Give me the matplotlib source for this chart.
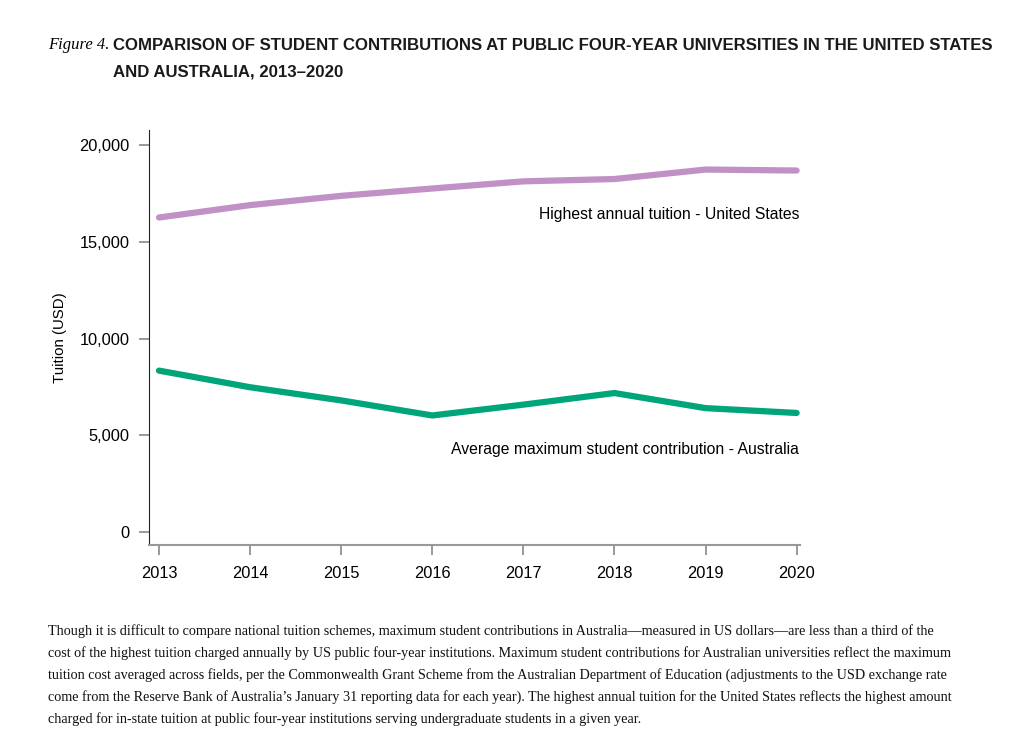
import matplotlib.pyplot as plt

years = [2013, 2014, 2015, 2016, 2017, 2018, 2019, 2020]
us_tuition = [16260, 16900, 17380, 17760, 18130, 18250, 18740, 18690]
au_contrib = [8340, 7480, 6800, 6020, 6580, 7180, 6400, 6150]

yticks = [0, 5000, 10000, 15000, 20000]

caption = [
    "Though it is difficult to compare national tuition schemes, maximum student contributions in Australia\u2014measured in US dollars\u2014are less than a third of the",
    "cost of the highest tuition charged annually by US public four-year institutions. Maximum student contributions for Australian universities reflect the maximum",
    "tuition cost averaged across fields, per the Commonwealth Grant Scheme from the Australian Department of Education (adjustments to the USD exchange rate",
    "come from the Reserve Bank of Australia\u2019s January 31 reporting data for each year). The highest annual tuition for the United States reflects the highest amount",
    "charged for in-state tuition at public four-year institutions serving undergraduate students in a given year.",
]

purple = "#c191c5"
green = "#00a57a"

plt.rcParams["font.family"] = ["Liberation Sans", "DejaVu Sans"]

fig = plt.figure(figsize=(10.24, 7.35), dpi=100)
ax = fig.add_axes([0.1455, 0.2585, 0.636, 0.565])

ax.plot(years, us_tuition, color=purple, lw=4.5, solid_capstyle="round")
ax.plot(years, au_contrib, color=green, lw=4.5, solid_capstyle="round")

ax.set_xlim(2012.89, 2020.04)
ax.set_ylim(-680, 20800)
ax.set_xticks(years)
ax.set_yticks(yticks)
ax.set_yticklabels([f"{v:,}" for v in yticks])

for s in ["top", "right"]:
    ax.spines[s].set_visible(False)
ax.spines["left"].set_color("#222222")
ax.spines["bottom"].set_color("#999999")
ax.spines["bottom"].set_linewidth(1.5)
ax.tick_params(axis="both", colors="#888888", labelcolor="black", labelsize=11.8, length=7, width=1.2)
ax.tick_params(axis="x", pad=8)
ax.tick_params(axis="y", pad=7)
ax.set_ylabel("Tuition (USD)", fontsize=10.8, labelpad=9)

ax.text(2020.03, 16400, "Highest annual tuition - United States", ha="right", va="center", fontsize=11.3)
ax.text(2020.03, 4250, "Average maximum student contribution - Australia", ha="right", va="center", fontsize=11.3)

fig.text(48 / 1024, 1 - 45 / 735, "Figure 4.", family="Liberation Serif", style="italic", fontsize=12, va="center")
fig.text(113 / 1024, 1 - 45 / 735, "COMPARISON OF STUDENT CONTRIBUTIONS AT PUBLIC FOUR-YEAR UNIVERSITIES IN THE UNITED STATES",
         fontsize=12.1, weight="bold", va="center", color="#1a1a1a")
fig.text(113 / 1024, 1 - 72 / 735, "AND AUSTRALIA, 2013\u20132020",
         fontsize=12.1, weight="bold", va="center", color="#1a1a1a")

for i, line in enumerate(caption):
    fig.text(48 / 1024, 1 - (631 + 22 * i) / 735, line, family="Liberation Serif", fontsize=10.2, va="center", color="#111111")

fig.savefig("out.png", dpi=100)
